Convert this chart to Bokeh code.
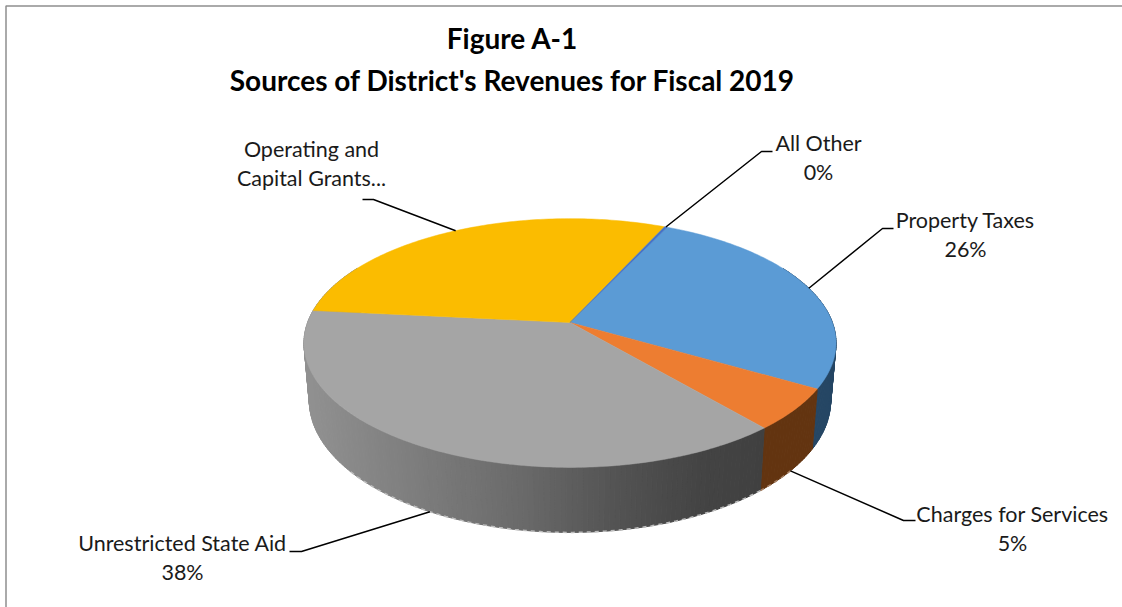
import math
from bokeh.plotting import figure
from bokeh.models import Range1d, ColumnDataSource
from bokeh.core.properties import value
from bokeh.embed import file_html
from bokeh.resources import INLINE

# ---- data
categories = ["Property Taxes", "Charges for Services", "Unrestricted State Aid",
              "Operating and Capital Grants", "All Other"]
shares = [26.4, 5.4, 37.8, 30.2, 0.2]
label_lines = [["Property Taxes"], ["Charges for Services"], ["Unrestricted State Aid"],
               ["Operating and", "Capital Grants..."], ["All Other"]]
show_pct = [True, True, True, False, True]
title_lines = ["Figure A-1", "Sources of District's Revenues for Fiscal 2019"]

# ---- styles and layout
top_colors = ["#5b9bd5", "#ed7d31", "#a5a5a5", "#fbbc00", "#4472c4"]
fringe_colors = [None, "#a98468", "#bdbdbd", None, None]
FRINGE_FROM_Y = 470
START_ANGLE = 25.2
CX, CY, A, B, K = 569.5, 322.0, 262.4, 121.0, 0.165
LOWER_CY, LOWER_SX, LOWER_SY = 378.0, 0.98, 1.062
label_centers = [(965, 219), (1012, 513), (182, 542), (311, 148), (818, 142)]
leader_elbows = [[(893, 228), (882, 228)], [(915, 520), (903, 520)],
                 [(289, 551), (301, 551)], [(362, 199), (373, 199)],
                 [(772, 151), (761, 151)]]
LINE_GAP = 29
TXT = "#1a1a1a"


def rim(deg, lower=False):
    a = math.radians(deg)
    u, v = math.sin(a), -math.cos(a)
    d = 1 - K * v
    sx = LOWER_SX if lower else 1.0
    sy = LOWER_SY if lower else 1.0
    c = LOWER_CY if lower else CY
    return CX + sx * A * u / d, c + sy * B * v / d


def lerp_hex(stops, x):
    if x <= stops[0][0]:
        return stops[0][1]
    for (x0, c0), (x1, c1) in zip(stops, stops[1:]):
        if x <= x1:
            t = (x - x0) / (x1 - x0)
            return tuple(round(p + (q - p) * t) for p, q in zip(c0, c1))
    return stops[-1][1]


grey_stops = [(305, (145, 145, 145)), (420, (124, 124, 124)), (520, (106, 106, 106)),
              (620, (82, 82, 82)), (700, (68, 68, 68)), (765, (64, 64, 64))]


def wall_color(i, x):
    if i == 0:
        return "#254664"
    if i == 1:
        return "#633410"
    return "#%02x%02x%02x" % lerp_hex(grey_stops, x)


total = sum(shares)
edges = [START_ANGLE]
for s in shares:
    edges.append(edges[-1] + s / total * 360.0)

p = figure(width=1122, height=607, output_backend="svg", toolbar_location=None,
           x_range=Range1d(0, 1122), y_range=Range1d(607, 0), min_border=0,
           outline_line_color=None)
p.axis.visible = False
p.grid.visible = False

# chart frame
p.line([1122, 5.5, 5.5], [5.5, 5.5, 607], line_color="#8e8e8e", line_width=1.5)

# side wall
walls = []
for i in range(len(shares)):
    a0, a1 = edges[i], edges[i + 1]
    n = max(1, int((a1 - a0) / 1.0))
    for j in range(n):
        b0 = a0 + (a1 - a0) * j / n
        b1 = a0 + (a1 - a0) * (j + 1) / n
        t0, t1 = rim(b0), rim(b1)
        l0, l1 = rim(b0, True), rim(b1, True)
        if l0[1] < CY and l1[1] < CY:
            continue
        walls.append(((t0[1] + t1[1]) / 2, [t0[0], t1[0], l1[0], l0[0]],
                      [t0[1], t1[1], l1[1], l0[1]], wall_color(i, (t0[0] + t1[0]) / 2)))
walls.sort(key=lambda w: w[0])
wall_src = ColumnDataSource(dict(xs=[w[1] for w in walls], ys=[w[2] for w in walls],
                                 c=[w[3] for w in walls]))
p.patches("xs", "ys", source=wall_src, fill_color="c", line_color="c", line_width=1)

# pale, broken lower edge of the wall
for i, col in enumerate(fringe_colors):
    if col is None:
        continue
    a0, a1 = edges[i], edges[i + 1]
    n = int(a1 - a0) + 1
    pts = [rim(a0 + (a1 - a0) * j / n, True) for j in range(n + 1)]
    pts = [q for q in pts if q[1] >= FRINGE_FROM_Y]
    p.line([q[0] for q in pts], [q[1] for q in pts], line_color=col, line_width=1.5,
           line_dash="4 4")

# top face
xs, ys = [], []
for i in range(len(shares)):
    a0, a1 = edges[i], edges[i + 1]
    n = max(2, int(a1 - a0) + 1)
    pts = [rim(a0 + (a1 - a0) * j / n) for j in range(n + 1)]
    xs.append([CX] + [q[0] for q in pts])
    ys.append([CY] + [q[1] for q in pts])
top_src = ColumnDataSource(dict(xs=xs, ys=ys, c=top_colors, name=categories))
p.patches("xs", "ys", source=top_src, fill_color="c", line_color="c", line_width=0.5)

# leaders start at each slice's middle on the rim
for i in range(len(shares)):
    mid = (edges[i] + edges[i + 1]) / 2
    lower = -math.cos(math.radians(mid)) > 0.5
    sx, sy = rim(mid, lower)
    e = leader_elbows[i]
    p.line([e[0][0], e[1][0], sx], [e[0][1], e[1][1], sy], line_color="#000000", line_width=1.5)

# labels
lx, ly, lt = [], [], []
for i, lines in enumerate(label_lines):
    rows = list(lines) + ([f"{round(shares[i])}%"] if show_pct[i] else [])
    for r, row in enumerate(rows):
        lx.append(label_centers[i][0])
        ly.append(label_centers[i][1] + r * LINE_GAP)
        lt.append(row)
p.text(lx, ly, text=lt, text_font=value("Lato"), text_font_size="21.5px", text_color=TXT,
       text_align="center", text_baseline="middle")

# title
p.text([512, 512], [37, 79], text=title_lines, text_font=value("Lato"),
       text_font_size="28px", text_font_style="bold", text_color="#000000",
       text_align="center", text_baseline="middle")

open("out.html", "w").write(file_html(p, INLINE))
